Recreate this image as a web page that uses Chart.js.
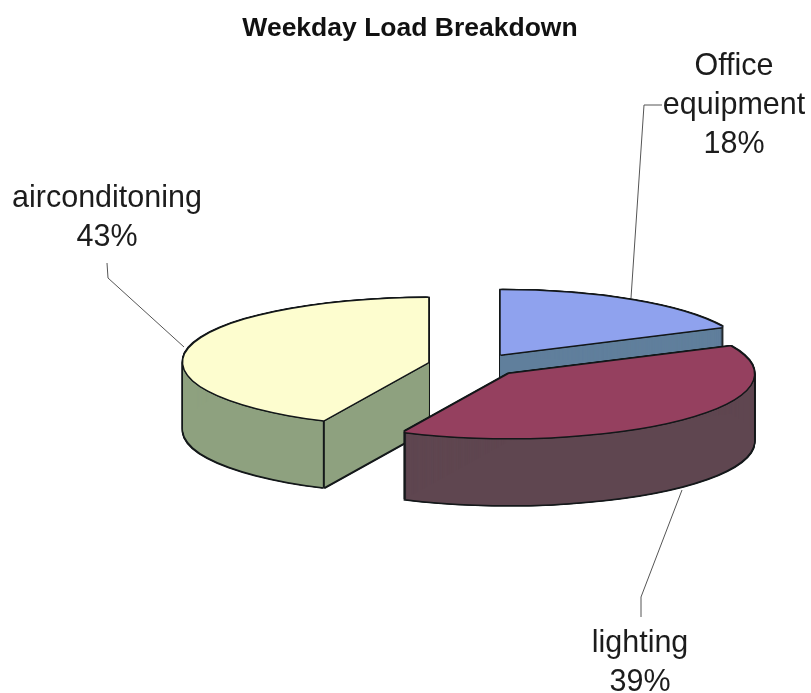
<!DOCTYPE html>
<html lang="en">
<head>
    <meta charset="UTF-8">
    <title>Weekday Load Breakdown</title>
    <script src="https://cdn.jsdelivr.net/npm/chart.js"></script>
    <style>
        html, body { margin: 0; padding: 0; background: #fff; }
        #wrap { width: 811px; height: 693px; }
    </style>
</head>
<body>
    <div id="wrap"><canvas id="myChart"></canvas></div>

    <script>
        const chartTitle = 'Weekday Load Breakdown';
        const categories = ['Office equipment', 'lighting', 'airconditoning'];
        const shares = [18, 39, 43];
        const topColors = ['#8fa2ee', '#95405f', '#fdfdcf'];
        const wallColors = ['#607f9c', '#5f4650', '#8ea17f'];

        // 3D look: the pie is squashed vertically and extruded downwards
        const squash = 0.262;
        const depth = 67;
        const explode = 48;           // distance each slice moves out from the centre
        const outline = '#14181a';
        const paintOrder = [0, 2, 1]; // back to front

        // label anchors and leader lines, one per category
        const labelAnchors = [
            { x: 734, y: 75 },
            { x: 640, y: 652 },
            { x: 107, y: 207 }
        ];
        const labelLeaders = [
            [[662, 105], [644, 105], [631, 298]],
            [[682, 490], [641, 597], [641, 617]],
            [[107, 263], [108, 278], [184, 347]]
        ];
        const lineGap = 39;

        // draws one slice in the squashed space, shifted by dx/dy real pixels
        function paintArc(ctx, arc, color, dx, dy) {
            const saved = arc.options;
            const mid = (arc.startAngle + arc.endAngle) / 2;
            arc.options = {
                backgroundColor: color,
                borderColor: color,
                borderWidth: 0,
                borderAlign: 'center',
                borderRadius: 0,
                circular: true,
                spacing: 0,
                offset: 0
            };
            ctx.save();
            ctx.setTransform(1, 0, 0, squash, dx, arc.y * (1 - squash) + dy);
            ctx.translate(Math.cos(mid) * explode, Math.sin(mid) * explode);
            arc.draw(ctx);
            ctx.restore();
            arc.options = saved;
        }

        // edge between the outer wall and the cut face, only on the near half
        function drawWallCorners(ctx, arc) {
            const mid = (arc.startAngle + arc.endAngle) / 2;
            [arc.startAngle, arc.endAngle].forEach(function (angle) {
                if (Math.sin(angle) <= 0) {
                    return;
                }
                const px = arc.x + Math.cos(mid) * explode + arc.outerRadius * Math.cos(angle);
                const py = arc.y + squash * (Math.sin(mid) * explode + arc.outerRadius * Math.sin(angle));
                ctx.beginPath();
                ctx.moveTo(px, py);
                ctx.lineTo(px, py + depth);
                ctx.strokeStyle = outline;
                ctx.lineWidth = 2;
                ctx.stroke();
            });
        }

        const extrudedPie = {
            id: 'extrudedPie',
            beforeDatasetsDraw(chart) {
                const ctx = chart.ctx;
                const arcs = chart.getDatasetMeta(0).data;
                paintOrder.forEach(function (i) {
                    const arc = arcs[i];
                    // dark outline first, then the wall on top of it
                    for (let s = -1.5; s <= depth + 1.5; s += 0.5) {
                        paintArc(ctx, arc, outline, -1.5, s);
                        paintArc(ctx, arc, outline, 1.5, s);
                    }
                    for (let s = 0; s <= depth; s++) {
                        paintArc(ctx, arc, wallColors[i], 0, s);
                    }
                    drawWallCorners(ctx, arc);
                    // top face with its own outline
                    [[-1.5, 0], [1.5, 0], [0, -1.5], [0, 1.5], [-1, -1], [1, -1], [-1, 1], [1, 1]].forEach(function (d) {
                        paintArc(ctx, arc, outline, d[0], d[1]);
                    });
                    paintArc(ctx, arc, topColors[i], 0, 0);
                });
                return false;
            },
            afterDraw(chart) {
                const ctx = chart.ctx;
                ctx.save();
                ctx.textAlign = 'center';
                ctx.fillStyle = '#111';
                ctx.font = 'bold 26.5px "Liberation Sans"';
                ctx.fillText(chartTitle, 410, 36);

                ctx.strokeStyle = '#555';
                ctx.lineWidth = 1;
                labelLeaders.forEach(function (pts) {
                    ctx.beginPath();
                    pts.forEach(function (p, n) {
                        if (n === 0) {
                            ctx.moveTo(p[0], p[1]);
                        } else {
                            ctx.lineTo(p[0], p[1]);
                        }
                    });
                    ctx.stroke();
                });

                ctx.fillStyle = '#1c1c1c';
                ctx.font = '30.5px "Liberation Sans"';
                categories.forEach(function (name, i) {
                    const lines = name.split(' ').concat(shares[i] + '%');
                    lines.forEach(function (line, n) {
                        ctx.fillText(line, labelAnchors[i].x, labelAnchors[i].y + n * lineGap);
                    });
                });
                ctx.restore();
            }
        };

        new Chart(document.getElementById('myChart').getContext('2d'), {
            type: 'pie',
            data: {
                labels: categories,
                datasets: [{
                    data: shares,
                    backgroundColor: topColors,
                    borderWidth: 0
                }]
            },
            options: {
                responsive: true,
                maintainAspectRatio: false,
                animation: false,
                radius: 245,
                events: [],
                layout: { padding: { left: 139, top: 37 } },
                plugins: {
                    legend: { display: false },
                    tooltip: { enabled: false }
                }
            },
            plugins: [extrudedPie]
        });
    </script>
</body>
</html>
